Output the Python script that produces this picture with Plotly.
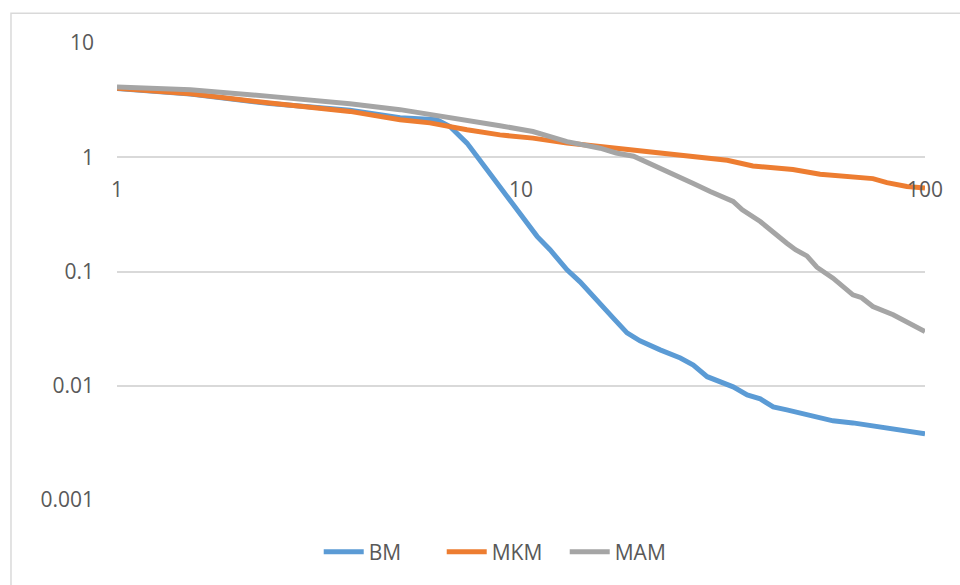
import plotly.graph_objects as go

# ---- data (log-log) ----
bm_x = [1.00, 1.52, 2.39, 3.77, 5.02, 5.95, 6.19, 6.67, 7.35, 8.24, 9.39, 10.96, 11.80, 13.0, 14.0,
        15.7, 16.9, 18.3, 19.7, 22.1, 24.8, 26.7, 28.9, 33.5, 36.3, 39.1, 42.1, 45.5, 49.1, 55.0,
        59.2, 66.3, 74.3, 80.5, 90.2, 100.0]
bm_y = [4.00, 3.58, 2.95, 2.58, 2.22, 2.19, 2.13, 1.86, 1.33, 0.777, 0.425, 0.203, 0.155, 0.1035, 0.0812,
        0.0532, 0.0393, 0.029, 0.0247, 0.0206, 0.0175, 0.0152, 0.0120, 0.00978, 0.00832, 0.00768, 0.00653,
        0.00615, 0.00579, 0.00524, 0.00493, 0.00473, 0.00446, 0.00428, 0.00403, 0.00379]

mkm_x = [1.00, 1.52, 2.39, 3.77, 5.02, 5.95, 7.35, 8.87, 10.7, 13.0, 15.7, 19.0, 22.9, 25.8, 32.4,
         37.5, 47.1, 55.0, 69.0, 74.3, 80.5, 90.2, 100.0]
mkm_y = [4.02, 3.60, 2.98, 2.52, 2.13, 2.00, 1.74, 1.57, 1.47, 1.33, 1.24, 1.16, 1.07, 1.03, 0.94,
         0.84, 0.78, 0.71, 0.67, 0.65, 0.60, 0.555, 0.537]

mam_x = [1.00, 1.52, 2.39, 3.77, 5.02, 6.06, 7.35, 8.87, 10.7, 11.8, 13.0, 15.7, 17.2, 19.0, 22.1,
         24.8, 26.7, 29.4, 32.2, 33.5, 35.3, 39.1, 45.5, 47.8, 51.0, 54.0, 59.2, 66.3, 69.7, 74.3,
         83.4, 93.4, 100.0]
mam_y = [4.12, 3.90, 3.41, 2.94, 2.61, 2.36, 2.10, 1.89, 1.68, 1.52, 1.37, 1.20, 1.09, 1.02, 0.80,
         0.68, 0.59, 0.502, 0.441, 0.410, 0.347, 0.274, 0.177, 0.155, 0.137, 0.109, 0.0875, 0.0625, 0.059,
         0.0494, 0.0418, 0.034, 0.0298]

series_names = ["BM", "MKM", "MAM"]
series_colors = ["#5B9BD5", "#ED7D31", "#A5A5A5"]

y_tickvals = [0.001, 0.01, 0.1, 1, 10]
y_ticktext = ["0.001", "0.01", "0.1", "1", "10"]
x_tickvals = [1, 10, 100]
x_ticktext = ["1", "10", "100"]

FONT = "Open Sans"
TXT = "#595959"

fig = go.Figure()
for name, xs, ys, col in zip(series_names, [bm_x, mkm_x, mam_x], [bm_y, mkm_y, mam_y], series_colors):
    fig.add_trace(go.Scatter(x=xs, y=ys, mode="lines", name=name,
                             line=dict(color=col, width=5)))

fig.update_layout(
    width=960, height=585,
    paper_bgcolor="white", plot_bgcolor="white",
    margin=dict(l=117, r=35, t=43, b=85),
    font=dict(family=FONT, size=21, color=TXT),
    showlegend=True,
    legend=dict(orientation="h", x=0.478, xanchor="center", y=-0.114, yanchor="middle",
                font=dict(family=FONT, size=21, color=TXT), bgcolor="rgba(0,0,0,0)",
                itemwidth=40, entrywidth=68, entrywidthmode="pixels"),
    xaxis=dict(type="log", range=[0, 2], anchor="free", position=0.75,
               tickvals=x_tickvals, ticktext=x_ticktext, showgrid=False, zeroline=False,
               showline=False, ticks="", ticklabelstandoff=18,
               tickfont=dict(family=FONT, size=21, color=TXT)),
    yaxis=dict(type="log", range=[-3, 1], tickvals=y_tickvals, ticktext=y_ticktext,
               showgrid=True, gridcolor="#D9D9D9", gridwidth=1.5, zeroline=False,
               showline=False, ticks="", ticklabelstandoff=22,
               tickfont=dict(family=FONT, size=21, color=TXT)),
    shapes=[dict(type="rect", xref="paper", yref="paper", x0=-0.1312, x1=1.2, y0=-0.3, y1=1.0653,
                 line=dict(color="#D9D9D9", width=1.5), fillcolor="rgba(0,0,0,0)", layer="below")],
)

fig.write_html("out.html", post_script="document.body.style.margin='0';",
               config={"displayModeBar": False})
